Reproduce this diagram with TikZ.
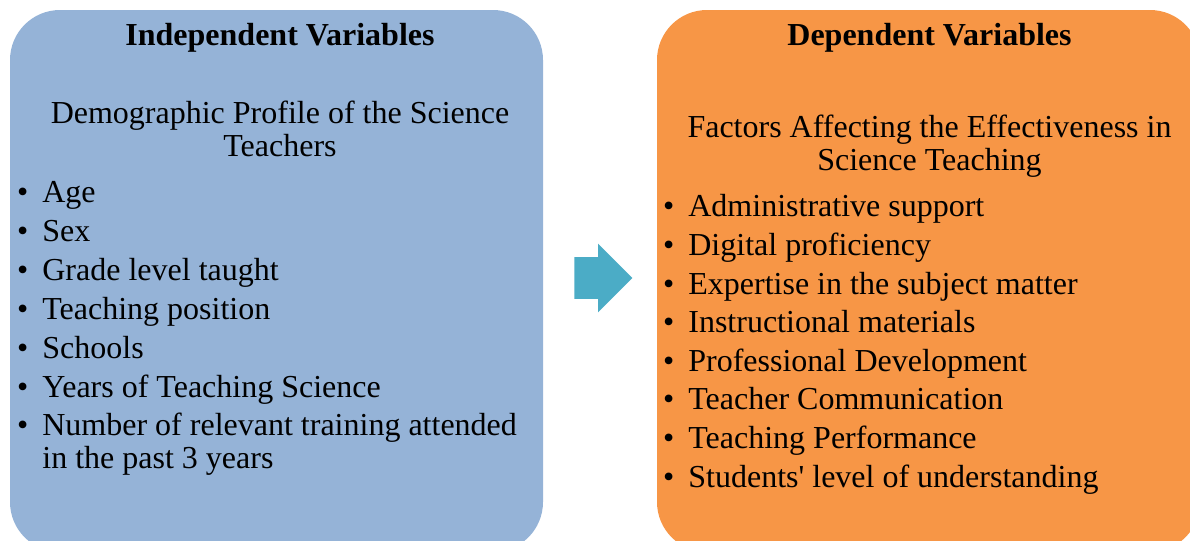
\documentclass[tikz,border=0pt]{standalone}
\usepackage{fontspec}
\setmainfont{Liberation Serif}
\usetikzlibrary{shapes.arrows}

\definecolor{boxblue}{HTML}{95B3D7}
\definecolor{boxorange}{HTML}{F79646}
\definecolor{arrowteal}{HTML}{4BACC6}

\newcommand{\itm}{\llap{\textbullet\hspace{7pt}}}

\tikzset{
  varbox/.style={rectangle,rounded corners=25pt,inner sep=0pt,minimum height=271pt},
  head/.style={font=\fontsize{16pt}{16.75pt}\selectfont\bfseries,anchor=base,inner sep=0pt},
  line/.style={anchor=base,inner sep=0pt},
  itm/.style={anchor=base west,inner sep=0pt},
  flow/.style={single arrow,fill=arrowteal,inner sep=0pt,text height=20.5pt,text depth=0pt,
    minimum height=29pt,minimum width=34pt,single arrow head extend=6.75pt}
}

\begin{document}
\begin{tikzpicture}[x=0.5pt,y=-0.5pt,every node/.append style={font=\fontsize{16pt}{16.75pt}\selectfont}]

        \clip (0,0) rectangle (1190,541);

        % the two variable boxes
        \node[varbox,fill=boxblue,minimum width=266.5pt]   (indep) at (276.5,281) {};
        \node[varbox,fill=boxorange,minimum width=271.5pt] (dep)   at (928.5,281) {};

        % arrow between them
        \node[flow,anchor=tail] (arrow) at (574,278) {};

        \begin{scope}
          \node[head] (indephead) at (280,45)  {Independent Variables};
          \node[line] (profile1)  at (280,123) {Demographic Profile of the Science};
          \node[line] (profile2)  at (280,156) {Teachers};

          \node[itm] (age)      at (42,202) {\itm Age};
          \node[itm] (sex)      at (42,241) {\itm Sex};
          \node[itm] (grade)    at (42,280) {\itm Grade level taught};
          \node[itm] (position) at (42,319) {\itm Teaching position};
          \node[itm] (schools)  at (42,358) {\itm Schools};
          \node[itm] (years)    at (42,397) {\itm Years of Teaching Science};
          \node[itm] (training) at (42,435) {\itm Number of relevant training attended};
          \node[itm] (training2) at (42,468) {in the past 3 years};
        \end{scope}

        \begin{scope}
          \node[head] (dephead) at (929.5,45)  {Dependent Variables};
          \node[line] (factors1) at (929.5,137) {Factors Affecting the Effectiveness in};
          \node[line] (factors2) at (929.5,170) {Science Teaching};

          \node[itm] (admin)    at (688,216) {\itm Administrative support};
          \node[itm] (digital)  at (688,255) {\itm Digital proficiency};
          \node[itm] (expert)   at (688,294) {\itm Expertise in the subject matter};
          \node[itm] (instr)    at (688,332) {\itm Instructional materials};
          \node[itm] (profdev)  at (688,371) {\itm Professional Development};
          \node[itm] (comm)     at (688,409) {\itm Teacher Communication};
          \node[itm] (perf)     at (688,448) {\itm Teaching Performance};
          \node[itm] (underst)  at (688,487) {\itm Students\textquotesingle{} level of understanding};
        \end{scope}

      \end{tikzpicture}
\end{document}
